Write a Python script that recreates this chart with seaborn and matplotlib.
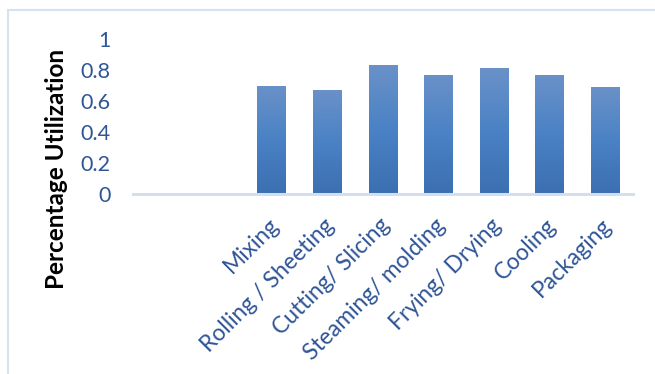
import numpy as np
import pandas as pd
import matplotlib
matplotlib.use("Agg")
import matplotlib.pyplot as plt
from matplotlib.lines import Line2D
import seaborn as sns

# Process stages and their utilisation
stages = ["Mixing", "Rolling / Sheeting", "Cutting/ Slicing", "Steaming/ molding",
          "Frying/ Drying", "Cooling", "Packaging"]
utilization = [0.70, 0.67, 0.83, 0.77, 0.81, 0.77, 0.69]
# two unlabeled leading slots on the category axis
leading_slots = ["", " "]
y_ticks = [0, 0.2, 0.4, 0.6, 0.8, 1]
y_tick_labels = ["0", "0.2", "0.4", "0.6", "0.8", "1"]

sns.set_theme(style="white")
plt.rcParams["font.family"] = ["Lato", "DejaVu Sans"]

df = pd.DataFrame({"stage": stages, "util": utilization})
order = leading_slots + stages

fig = plt.figure(figsize=(6.55, 3.74), dpi=100)
ax = fig.add_axes([133 / 655, 1 - 194 / 374, 500 / 655, 155 / 374])

sns.barplot(data=df, x="stage", y="util", order=order, color="#4a7fc1",
            width=0.52, ax=ax, saturation=1)

# vertical gradient fill on each bar
grad = np.linspace(0, 1, 256).reshape(-1, 1)
cmap = matplotlib.colors.LinearSegmentedColormap.from_list(
    "bar", ["#3b6fb1", "#4a82c5", "#6a91c8"])
for p in list(ax.patches):
    x0, y0 = p.get_x(), p.get_y()
    w, h = p.get_width(), p.get_height()
    if not np.isfinite(h) or h == 0:
        continue
    im = ax.imshow(grad, cmap=cmap, origin="lower", aspect="auto",
                   extent=[x0, x0 + w, y0, y0 + h], zorder=p.get_zorder() + 0.1)
    im.set_clip_path(p)
    p.set_edgecolor("none")

ax.set_xlim(-0.5, len(order) - 0.5)
ax.set_ylim(0, 1)
ax.set_yticks(y_ticks, labels=y_tick_labels)
ax.set_xticks(np.arange(len(order)) + 0.06, labels=order, rotation=45, ha="right",
              va="center", rotation_mode="anchor")
ax.tick_params(axis="y", length=0, pad=16, labelsize=15.5, labelcolor="#2f5597")
ax.tick_params(axis="x", length=0, pad=20, labelsize=16.5, labelcolor="#2f5597")

ax.set_xlabel("")
ax.set_ylabel("Percentage Utilization", fontsize=17.5, fontweight="bold",
              color="black")
ax.yaxis.set_label_coords((68 - 133) / 500, (194 - 169) / 155)

for side in ["top", "right", "left"]:
    ax.spines[side].set_visible(False)
ax.spines["bottom"].set_color("#d3dfef")
ax.spines["bottom"].set_linewidth(2.2)
ax.grid(False)

# chart area frame (left and top edges)
fig.add_artist(Line2D([7.5 / 655, 7.5 / 655], [0, 1 - 9.5 / 374],
                      transform=fig.transFigure, color="#d6e1f1", lw=1.5))
fig.add_artist(Line2D([7.5 / 655, 1], [1 - 9.5 / 374, 1 - 9.5 / 374],
                      transform=fig.transFigure, color="#d6e1f1", lw=1.5))

fig.savefig("out.png", dpi=100)
